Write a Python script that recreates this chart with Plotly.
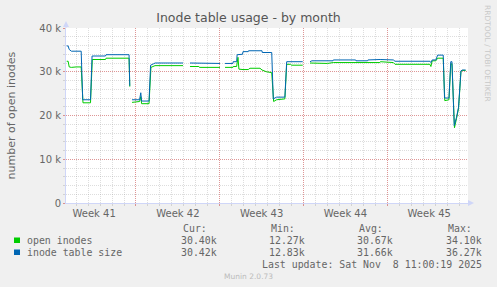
import plotly.graph_objects as go

# ---------------- data (x = days since Mon 2025-10-06 00:00) ----------------
days_open = [1.21, 1.33, 1.42, 1.60, 2.00, 2.42, 2.57, 3.20, 3.35, 4.45, 4.50, 6.42, 6.48, 6.55,
             6.67, 7.30, 7.40, 7.47, 8.09, 8.25, 8.59, 10.93, 11.2,
             11.51, 12.25, 12.30, 14.02, 14.2,
             14.44, 15.10, 15.12, 15.41, 15.52, 15.60, 15.94, 16.38, 16.52, 17.36, 17.53, 17.90,
             18.34, 18.50, 18.75, 19.44, 19.59, 19.90, 20.00, 20.93, 21.2,
             21.54, 21.80, 21.85, 22.70, 22.75, 23.00, 23.49, 27.38, 27.42, 28.50, 28.64, 31.56,
             31.64, 31.75, 32.06, 32.20, 32.67, 32.80, 33.15, 33.30, 33.40, 33.61, 33.78, 33.95,
             34.15, 34.26, 34.54]
open_inodes = [32.4, 32.4, 31.1, 31.0, 31.1, 31.1, 22.9, 22.9, 32.8, 32.8, 33.1, 33.1, 26.6, None,
               23.0, 23.2, 24.3, 22.7, 22.7, 31.0, 31.4, 31.4, None,
               31.2, 31.2, 31.0, 31.0, None,
               31.0, 31.0, 31.2, 31.2, 33.3, 30.6, 30.5, 30.5, 30.8, 30.8, 30.4, 30.0,
               29.8, 23.2, 23.6, 23.8, 31.7, 31.7, 31.5, 31.5, None,
               32.0, 32.0, 31.9, 31.9, 32.0, 31.9, 32.1, 32.1, 32.3, 32.1, 31.7, 31.7,
               31.2, 32.5, 32.5, 33.1, 33.1, 23.4, 23.6, 31.8, 31.8, 17.2, 19.3, 21.6,
               30.0, 30.3, 30.3]

days_size = [1.21, 1.33, 1.42, 1.60, 2.42, 2.55, 3.20, 3.33, 4.45, 4.50, 6.42, 6.48, 6.55,
             6.67, 7.30, 7.40, 7.47, 8.09, 8.22, 8.45, 8.60, 10.93, 11.2,
             11.51, 12.25, 12.30, 14.02, 14.2,
             14.44, 15.10, 15.12, 15.41, 15.45, 15.90, 15.94, 16.38, 16.40, 17.53, 17.55, 18.34,
             18.47, 18.75, 19.44, 19.59, 20.93, 21.2,
             21.54, 21.70, 23.46, 23.49, 25.35, 25.38, 26.35, 26.38, 27.40, 28.00, 28.50, 28.64,
             31.56, 31.64, 31.75, 32.06, 32.20, 32.67, 32.78, 33.15, 33.30, 33.40, 33.59, 33.78,
             33.95, 34.15, 34.26, 34.54]
table_size = [35.9, 35.9, 35.1, 34.7, 34.7, 23.6, 23.6, 33.6, 33.6, 33.9, 33.9, 26.8, None,
              23.6, 23.6, 25.2, 23.3, 23.3, 31.5, 31.8, 32.0, 32.0, None,
              32.0, 32.0, 31.9, 31.9, None,
              31.9, 31.9, 32.3, 32.3, 33.9, 34.0, 34.6, 34.6, 34.8, 34.8, 34.4, 34.4,
              23.8, 24.2, 24.2, 32.3, 32.3, None,
              32.3, 32.5, 32.5, 32.7, 32.7, 32.5, 32.5, 32.7, 32.8, 32.7, 32.7, 32.4,
              32.4, 32.1, 32.7, 32.7, 33.8, 33.8, 24.0, 24.0, 32.3, 32.3, 17.7, 19.6,
              21.9, 30.2, 30.4, 30.4]

week_starts = [7, 14, 21, 28]
week_centers = [3.5, 10.5, 17.5, 24.5, 31.5]
week_labels = ["Week 41", "Week 42", "Week 43", "Week 44", "Week 45"]
x_range = [1.152, 34.74]

y_ticks = [0, 10, 20, 30, 40]
y_labels = ["0", "10 k", "20 k", "30 k", "40 k"]

series_names = ["open inodes", "inode table size"]
series_colors = ["#00CC00", "#0066B3"]
stat_headers = ["Cur:", "Min:", "Avg:", "Max:"]
stats = [["30.40k", "12.27k", "30.67k", "34.10k"],
         ["30.42k", "12.83k", "31.66k", "36.27k"]]
last_update = "Last update: Sat Nov  8 11:00:19 2025"

# ---------------- layout geometry (pixels) ----------------
W, H = 497, 287
L, R, T, B = 66, 468, 28, 203
def px(x):
    return (x - L) / (R - L)
def py(y):
    return (B - y) / (B - T)

FONT = "DejaVu Sans"
MONO = "DejaVu Sans Mono"
FC = "#666666"
GRID = "rgba(143,143,143,0.30)"
MGRID = "rgba(224,80,80,0.50)"
AXIS = "#CFD6F8"

fig = go.Figure()
fig.add_trace(go.Scatter(x=days_open, y=open_inodes, mode="lines", name=series_names[0],
                         line=dict(color=series_colors[0], width=1), connectgaps=False,
                         hoverinfo="skip"))
fig.add_trace(go.Scatter(x=days_size, y=table_size, mode="lines", name=series_names[1],
                         line=dict(color=series_colors[1], width=1), connectgaps=False,
                         hoverinfo="skip"))
fig.add_trace(go.Scatter(x=week_centers, y=[0] * len(week_centers), xaxis="x2", mode="none",
                         showlegend=False, hoverinfo="skip"))

fig.update_layout(
    width=W, height=H, autosize=False,
    margin=dict(l=L, r=W - R, t=T, b=H - B, pad=0),
    paper_bgcolor="#F0F0F0", plot_bgcolor="#FFFFFF",
    showlegend=False,
    font=dict(family=FONT, size=10, color=FC),
    title=dict(text="Inode table usage - by month", xref="container", yref="container",
               x=0.5, xanchor="center", y=1 - 18 / H, yanchor="middle",
               font=dict(family=FONT, size=12.5, color="#555555")),
    xaxis=dict(range=x_range, tickmode="array", tickvals=week_starts, ticktext=[""] * 4,
               showgrid=True, gridcolor=MGRID, griddash="1px,1px", gridwidth=1,
               zeroline=False, showline=True, linecolor=AXIS, linewidth=1,
               ticks="outside", ticklen=2, tickcolor=MGRID,
               minor=dict(tickmode="linear", tick0=0, dtick=1, showgrid=True,
                          gridcolor=GRID, griddash="1px,1px", ticks="outside",
                          ticklen=2, tickcolor=GRID)),
    xaxis2=dict(range=x_range, overlaying="x", anchor="y", side="bottom",
                tickmode="array", tickvals=week_centers, ticktext=week_labels,
                showgrid=False, zeroline=False, showline=False, ticks="",
                ticklabelstandoff=3,
                tickfont=dict(family=FONT, size=10, color=FC)),
    yaxis=dict(range=[0, 40], tickmode="array", tickvals=y_ticks, ticktext=y_labels,
               showgrid=True, gridcolor=MGRID, griddash="1px,1px", gridwidth=1,
               zeroline=False, showline=True, linecolor=AXIS, linewidth=1,
               ticks="outside", ticklen=2, tickcolor=MGRID,
               tickfont=dict(family=FONT, size=10, color=FC),
               minor=dict(tickmode="linear", tick0=0, dtick=2, showgrid=True,
                          gridcolor=GRID, griddash="1px,1px", ticks="outside",
                          ticklen=2, tickcolor=GRID)),
)

ann = []
# y-axis title
ann.append(dict(text="number of open inodes", x=px(11), y=py(115.5), xref="paper", yref="paper",
                textangle=-90, showarrow=False, xanchor="center", yanchor="middle",
                font=dict(family=FONT, size=11, color=FC)))
# watermark right
ann.append(dict(text="RRDTOOL / TOBI OETIKER", x=px(488), y=py(53), xref="paper", yref="paper",
                textangle=90, showarrow=False, xanchor="center", yanchor="middle",
                font=dict(family=FONT, size=7.5, color="#C8C8C8")))
# legend header
col_right = [217.5, 305.7, 393.7, 482.5]
for h, cr in zip(stat_headers, col_right):
    ann.append(dict(text=h, x=px(cr - 36), y=py(228.5), xref="paper", yref="paper",
                    showarrow=False, xanchor="left", yanchor="middle", borderpad=0,
                    font=dict(family=MONO, size=9.9, color=FC)))
row_y = [240.5, 252.5]
shapes = []
for i, name in enumerate(series_names):
    ann.append(dict(text=name, x=px(26), y=py(row_y[i]), xref="paper", yref="paper",
                    showarrow=False, xanchor="left", yanchor="middle", borderpad=0,
                    font=dict(family=MONO, size=9.9, color=FC)))
    for v, cr in zip(stats[i], col_right):
        ann.append(dict(text=v, x=px(cr), y=py(row_y[i]), xref="paper", yref="paper",
                        showarrow=False, xanchor="right", yanchor="middle", borderpad=0,
                        font=dict(family=MONO, size=9.9, color=FC)))
    shapes.append(dict(type="rect", xref="paper", yref="paper",
                       x0=px(14), x1=px(20), y0=py(row_y[i] - 3), y1=py(row_y[i] + 2.5),
                       fillcolor=series_colors[i], line=dict(width=0)))
ann.append(dict(text=last_update, x=px(482.5), y=py(264), xref="paper", yref="paper",
                showarrow=False, xanchor="right", yanchor="middle", borderpad=0,
                font=dict(family=MONO, size=9.9, color=FC)))
ann.append(dict(text="Munin 2.0.73", x=px(248), y=py(276.5), xref="paper", yref="paper",
                showarrow=False, xanchor="center", yanchor="middle", borderpad=0,
                font=dict(family=FONT, size=7.5, color="#BBBBBB")))

# axis arrows
shapes.append(dict(type="line", xref="paper", yref="paper", x0=px(66), x1=px(66),
                   y0=py(28), y1=py(24), line=dict(color=AXIS, width=1)))
shapes.append(dict(type="path", xref="paper", yref="paper",
                   path=f"M {px(63)},{py(27)} L {px(69)},{py(27)} L {px(66)},{py(21)} Z",
                   fillcolor=AXIS, line=dict(width=0)))
shapes.append(dict(type="line", xref="paper", yref="paper", x0=px(468), x1=px(470),
                   y0=py(203), y1=py(203), line=dict(color=AXIS, width=1)))
shapes.append(dict(type="path", xref="paper", yref="paper",
                   path=f"M {px(468)},{py(200)} L {px(468)},{py(206)} L {px(474)},{py(203)} Z",
                   fillcolor=AXIS, line=dict(width=0)))

fig.update_layout(annotations=ann, shapes=shapes)
fig.write_html("out.html")
